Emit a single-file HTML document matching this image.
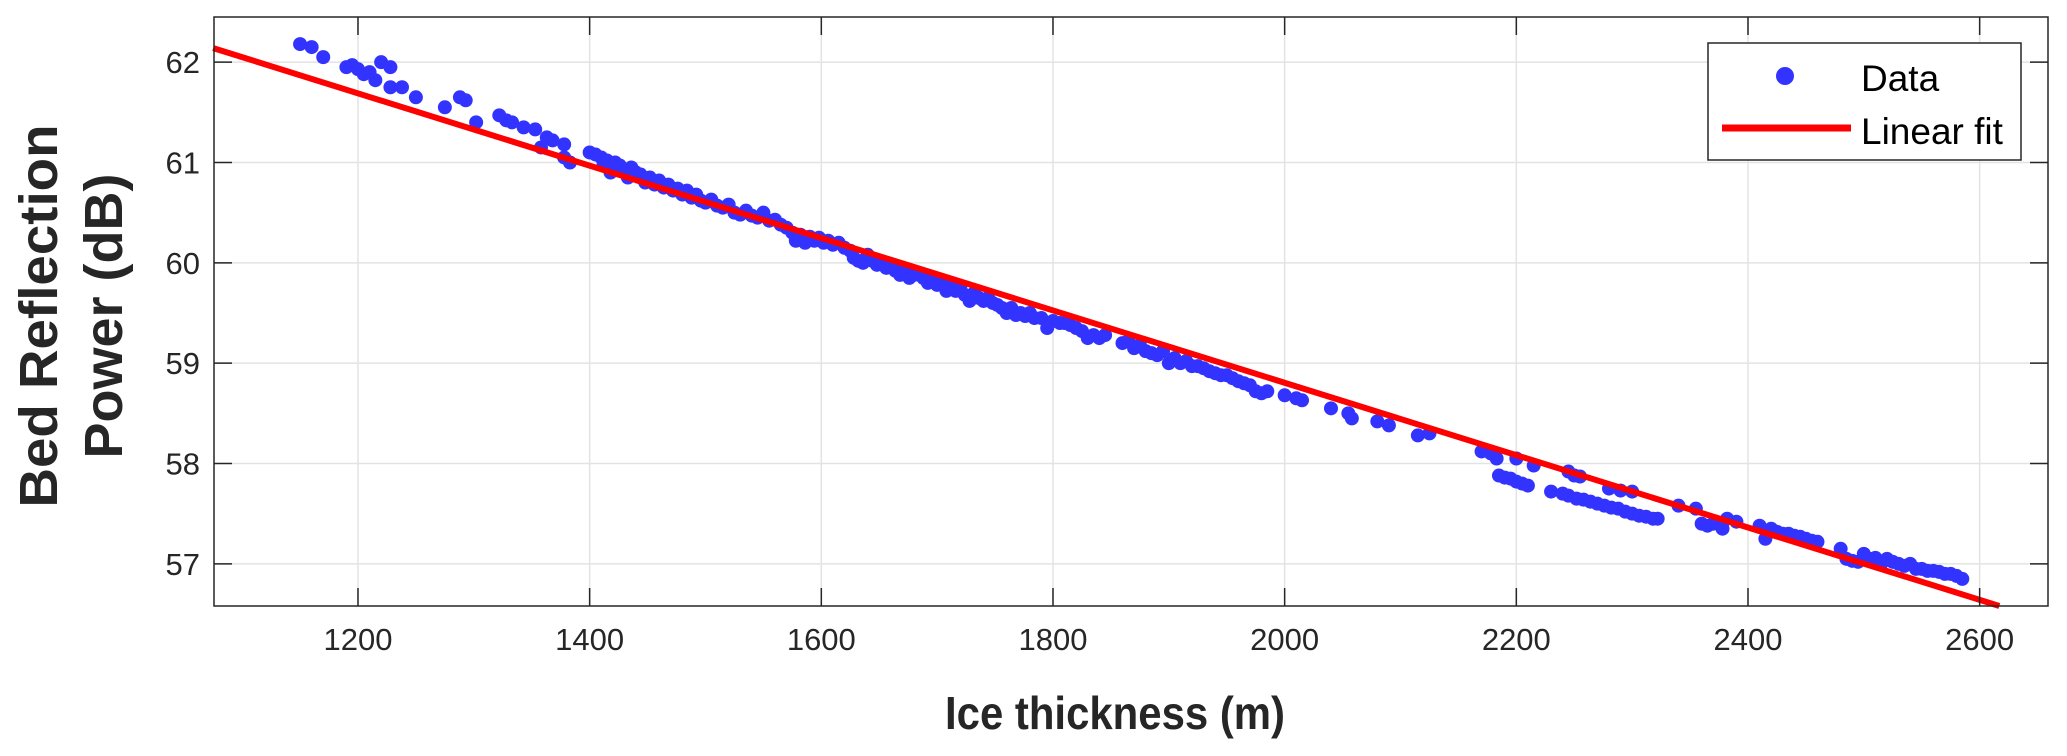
<!DOCTYPE html>
<html><head><meta charset="utf-8"><style>
html,body{margin:0;padding:0;background:#fff;}
svg{display:block;font-family:"Liberation Sans",Arial,sans-serif;}
</style></head><body>
<svg id="chart" width="2067" height="756" viewBox="0 0 2067 756" xmlns="http://www.w3.org/2000/svg">
<rect x="0" y="0" width="2067" height="756" fill="#fff"/>
<g id="grid"></g>
<g id="marks"></g>
<rect x="214" y="17" width="1834" height="589" fill="none" stroke="#262626" stroke-width="1.5"/>
<g id="ticks"></g>
<text x="1115" y="729" text-anchor="middle" font-size="46" font-weight="bold" fill="#262626" textLength="340" lengthAdjust="spacingAndGlyphs">Ice thickness (m)</text>
<g transform="translate(0,316) rotate(-90)">
<text x="0" y="57" text-anchor="middle" font-size="54" font-weight="bold" fill="#262626" textLength="383" lengthAdjust="spacingAndGlyphs">Bed Reflection</text>
<text x="0" y="122" text-anchor="middle" font-size="54" font-weight="bold" fill="#262626">Power (dB)</text>
</g>
<g>
<rect x="1708" y="43" width="313" height="117" fill="#fff" stroke="#262626" stroke-width="1.5"/>
<circle cx="1785" cy="76" r="9" fill="#3333ff"/>
<text x="1861" y="91" font-size="37" fill="#000">Data</text>
<line x1="1722" y1="128" x2="1851" y2="128" stroke="#ff0000" stroke-width="7"/>
<text x="1861" y="144" font-size="37" fill="#000">Linear fit</text>
</g>
</svg>
<script>
const xTicks=[1200,1400,1600,1800,2000,2200,2400,2600];
const yTicks=[57,58,59,60,61,62];
const thickness=[1150,1160,1170,1190,1195,1200,1205,1210,1215,1220,1228,1228,1238,1250,1275,1288,1293,1302,1322,1328,1333,1343,1353,1358,1363,1368,1378,1378,1383,
1400,1405,1410,1412,1415,1418,1422,1426,1430,1433,1436,1440,1444,1448,1452,1456,1460,1464,1468,1472,1476,1480,1484,1488,1492,1496,1500,1505,1510,1515,1520,1525,1530,1535,1540,1545,1550,1555,1560,1565,1570,1575,1578,1582,1586,1590,1594,1598,1602,1606,1610,1615,1620,1625,1628,1632,1636,1640,1644,1648,1652,1656,1660,1664,1668,1672,1676,1680,1684,1688,1692,1696,1700,1705,1708,1712,1716,1720,1724,1728,1732,1736,1740,1744,1748,1752,1756,1760,1764,1768,1772,1776,1780,1784,1790,1795,1800,1806,1810,1815,1820,1825,1830,1835,1840,1845,1860,1865,1870,1875,1880,1885,1890,1895,1900,1905,1910,1915,1920,1925,1930,1935,1940,1945,1950,1955,1960,1965,1970,1975,1980,1985,2000,2010,2015,2040,2055,2058,2080,2090,2115,2125,2170,2178,2183,2185,2190,2195,2200,2205,2210,2215,2200,2230,2240,2245,2250,2255,2245,2252,2258,2264,2270,2276,2282,2288,2294,2300,2306,2312,2318,2322,2280,2290,2300,2340,2355,2360,2365,2370,2378,2382,2390,2410,2415,2420,2425,2430,2435,2440,2445,2450,2455,2460,2480,2485,2490,2495,2500,2505,2510,2515,2520,2525,2530,2535,2540,2545,2550,2555,2560,2565,2570,2575,2580,2585];
const power=[62.18,62.15,62.05,61.95,61.97,61.93,61.88,61.9,61.82,62.0,61.95,61.75,61.75,61.65,61.55,61.65,61.62,61.4,61.47,61.42,61.4,61.35,61.33,61.15,61.25,61.22,61.18,61.05,61.0,
61.1,61.08,61.05,60.98,61.02,60.9,61.0,60.97,60.93,60.85,60.95,60.9,60.88,60.8,60.85,60.78,60.82,60.75,60.78,60.72,60.74,60.68,60.72,60.65,60.68,60.62,60.6,60.63,60.57,60.55,60.58,60.5,60.48,60.52,60.47,60.45,60.5,60.42,60.43,60.38,60.35,60.3,60.22,60.28,60.2,60.26,60.22,60.25,60.2,60.22,60.18,60.2,60.15,60.12,60.05,60.02,60.0,60.08,60.02,59.98,60.0,59.95,59.98,59.92,59.88,59.92,59.85,59.88,59.9,59.85,59.8,59.82,59.78,59.8,59.72,59.75,59.72,59.75,59.68,59.62,59.7,59.65,59.62,59.65,59.6,59.58,59.55,59.5,59.55,59.48,59.5,59.47,59.5,59.45,59.45,59.35,59.42,59.4,59.4,59.38,59.35,59.32,59.25,59.28,59.25,59.28,59.2,59.22,59.15,59.18,59.12,59.1,59.08,59.12,59.0,59.05,59.0,59.02,58.97,58.97,58.95,58.92,58.9,58.88,58.88,58.85,58.82,58.8,58.78,58.72,58.7,58.72,58.68,58.65,58.63,58.55,58.5,58.45,58.42,58.38,58.28,58.3,58.12,58.1,58.05,57.88,57.86,57.85,57.82,57.8,57.78,57.98,58.05,57.72,57.7,57.92,57.88,57.87,57.68,57.65,57.64,57.62,57.6,57.58,57.56,57.55,57.52,57.5,57.48,57.47,57.45,57.45,57.75,57.73,57.72,57.58,57.55,57.4,57.38,57.4,57.35,57.45,57.42,57.38,57.25,57.35,57.32,57.3,57.3,57.28,57.27,57.25,57.23,57.22,57.15,57.05,57.03,57.02,57.1,57.05,57.06,57.0,57.05,57.02,57.0,56.98,57.0,56.95,56.95,56.93,56.93,56.92,56.9,56.9,56.88,56.85];
const fitX=[1075,2617];
const fitY=[62.14,56.58];

const NS="http://www.w3.org/2000/svg";
const X0=214,X1=2048,Y0=17,Y1=606;
const xMin=1075.7,xMax=2659,yMin=56.58,yMax=62.45;
function sx(v){return X0+(v-xMin)/(xMax-xMin)*(X1-X0);}
function sy(v){return Y1-(v-yMin)/(yMax-yMin)*(Y1-Y0);}
function mk(tag,attrs,parent){const e=document.createElementNS(NS,tag);for(const k in attrs)e.setAttribute(k,attrs[k]);parent.appendChild(e);return e;}
const grid=document.getElementById('grid'),ticks=document.getElementById('ticks'),marks=document.getElementById('marks');
xTicks.forEach(t=>{const x=sx(t);
 const g=mk('line',{x1:x,x2:x,y1:Y0,y2:Y1,stroke:'#e3e3e3','stroke-width':1.5},grid);
 
 
 mk('line',{x1:x,x2:x,y1:Y1,y2:Y1-18,stroke:'#262626','stroke-width':1.5},ticks);
 mk('line',{x1:x,x2:x,y1:Y0,y2:Y0+18,stroke:'#262626','stroke-width':1.5},ticks);
 const tx=mk('text',{x:x,y:650,'text-anchor':'middle','font-size':31,fill:'#262626'},ticks);tx.textContent=t;
 
 
});
yTicks.forEach(t=>{const y=sy(t);
 const g=mk('line',{x1:X0,x2:X1,y1:y,y2:y,stroke:'#e3e3e3','stroke-width':1.5},grid);
 
 
 mk('line',{x1:X0,x2:X0+18,y1:y,y2:y,stroke:'#262626','stroke-width':1.5},ticks);
 mk('line',{x1:X1,x2:X1-18,y1:y,y2:y,stroke:'#262626','stroke-width':1.5},ticks);
 const tx=mk('text',{x:200,y:y+11,'text-anchor':'end','font-size':31,fill:'#262626'},ticks);tx.textContent=t;
 
 
});
thickness.forEach((v,i)=>{
 const c=mk('circle',{cx:sx(v),cy:sy(power[i]),r:7,fill:'#3333ff'},marks);
 
 
});
const fl=mk('line',{x1:sx(fitX[0]),y1:sy(fitY[0]),x2:sx(fitX[1]),y2:sy(fitY[1]),stroke:'#ff0000','stroke-width':6},marks);


</script>
</body></html>
